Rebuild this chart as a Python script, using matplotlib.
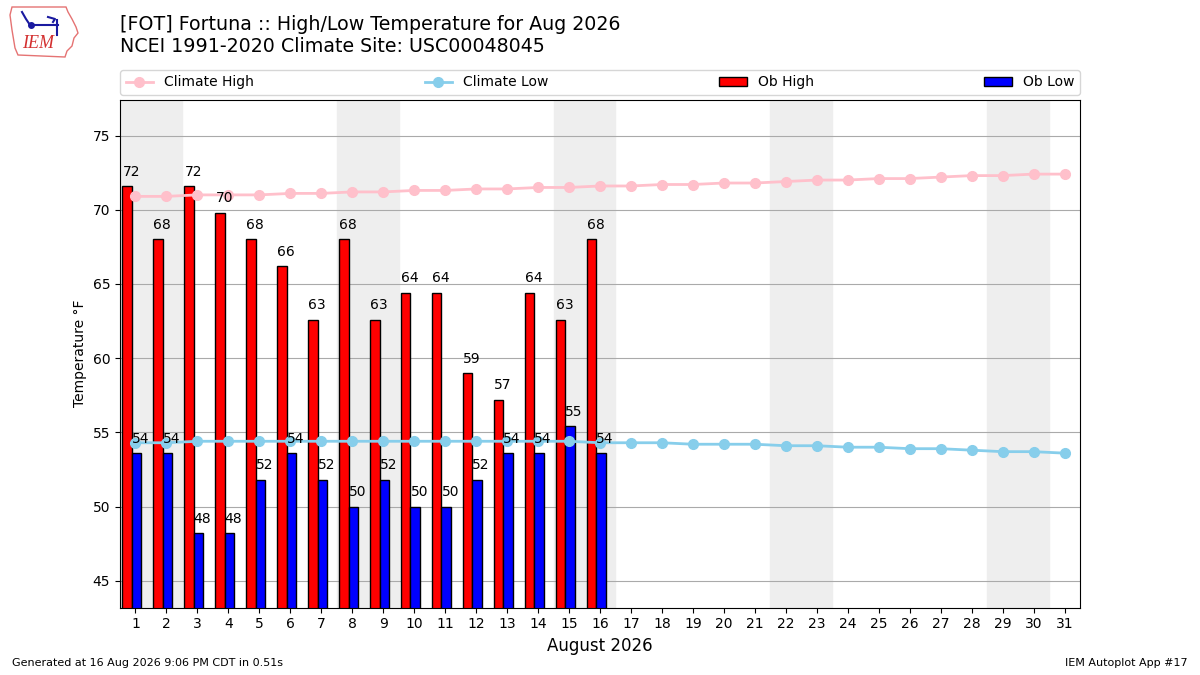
import numpy as np
import matplotlib
matplotlib.use("Agg")
import matplotlib.pyplot as plt
from matplotlib.lines import Line2D
from matplotlib.patches import Polygon

days = np.arange(1, 32)
clim_high = [70.9, 70.9, 71.0, 71.0, 71.0, 71.1, 71.1, 71.2, 71.2, 71.3, 71.3,
             71.4, 71.4, 71.5, 71.5, 71.6, 71.6, 71.7, 71.7, 71.8, 71.8, 71.9,
             72.0, 72.0, 72.1, 72.1, 72.2, 72.3, 72.3, 72.4, 72.4]
clim_low = [54.3, 54.3, 54.4, 54.4, 54.4, 54.4, 54.4, 54.4, 54.4, 54.4, 54.4,
            54.4, 54.4, 54.4, 54.4, 54.3, 54.3, 54.3, 54.2, 54.2, 54.2, 54.1,
            54.1, 54.0, 54.0, 53.9, 53.9, 53.8, 53.7, 53.7, 53.6]
ob_days = np.arange(1, 17)
ob_high = [71.6, 68.0, 71.6, 69.8, 68.0, 66.2, 62.6, 68.0, 62.6, 64.4, 64.4,
           59.0, 57.2, 64.4, 62.6, 68.0]
ob_low = [53.6, 53.6, 48.2, 48.2, 51.8, 53.6, 51.8, 50.0, 51.8, 50.0, 50.0,
          51.8, 53.6, 53.6, 55.4, 53.6]
weekends = [1, 8, 15, 22, 29]

W, H = 1200, 675


def px(x, y):
    # figure pixel (from top-left) to figure fraction
    return x / W, 1 - y / H


fig = plt.figure(figsize=(12, 6.75), dpi=100)
ax = fig.add_axes([0.1, 0.1, 0.8, 0.752])

for d in weekends:
    ax.axvspan(d - 0.5, d + 1.5, color="#EEEEEE", zorder=0)

ax.grid(axis="y", color="#aaaaaa", zorder=1)
ax.set_axisbelow(True)

l1, = ax.plot(days, clim_high, color="pink", marker="o", lw=2, ms=7,
              label="Climate High", zorder=3)
l2, = ax.plot(days, clim_low, color="skyblue", marker="o", lw=2, ms=7,
              label="Climate Low", zorder=3)

b1 = ax.bar(ob_days - 0.42, ob_high, width=0.3, align="edge", color="red",
            edgecolor="k", label="Ob High", zorder=2)
b2 = ax.bar(ob_days - 0.12, ob_low, width=0.3, align="edge", color="blue",
            edgecolor="k", label="Ob Low", zorder=2)

for d, v in zip(ob_days, ob_high):
    ax.text(d - 0.42, v + 0.5, f"{v:.0f}", ha="left", va="bottom",
            fontsize=10, zorder=4)
for d, v in zip(ob_days, ob_low):
    ax.text(d - 0.12, v + 0.5, f"{v:.0f}", ha="left", va="bottom",
            fontsize=10, zorder=4)

ax.set_xlim(0.5, 31.5)
ax.set_ylim(min(ob_low) - 5, max(clim_high) + 5)
ax.set_xticks(days)
ax.set_xlabel("August 2026", fontsize=12)
ax.set_ylabel("Temperature °F")

fig.legend(handles=[l1, l2, b1, b2], loc="lower left", ncol=4, mode="expand",
           bbox_to_anchor=(0.1, 1 - 95 / 675, 0.8, 0.04),
           bbox_transform=fig.transFigure, borderaxespad=0)

fig.text(0.1, 1 - 15 / H, "[FOT] Fortuna :: High/Low Temperature for Aug 2026\n"
         "NCEI 1991-2020 Climate Site: USC00048045", fontsize=13.7, va="top",
         ha="left")
fig.text(0.01, 0.01, "Generated at 16 Aug 2026 9:06 PM CDT in 0.51s",
         fontsize=8, ha="left", va="bottom")
fig.text(0.99, 0.01, "IEM Autoplot App #17", fontsize=8, ha="right",
         va="bottom")

# rough IEM logo
outline = [(12, 7), (66, 7), (68, 12), (72, 19), (76, 27), (78, 33),
           (74, 38), (72, 46), (67, 51), (65, 57), (18, 55), (15, 48),
           (12, 30), (10, 15)]
fig.patches.append(Polygon([px(*p) for p in outline], closed=True,
                           fill=False, edgecolor="#e57373", lw=1,
                           transform=fig.transFigure))
for xs, ys in [([22, 26, 30], [12, 19, 25]), ([30, 58], [25, 25]),
               ([57, 57], [20, 35]), ([48, 55, 53], [17, 19, 22])]:
    pts = [px(x, y) for x, y in zip(xs, ys)]
    fig.lines.append(Line2D([p[0] for p in pts], [p[1] for p in pts],
                            color="#1a1aa0", lw=1.5,
                            transform=fig.transFigure))
fig.lines.append(Line2D([px(31, 25)[0]], [px(31, 25)[1]], marker="o", ms=4,
                        color="#1a1aa0", transform=fig.transFigure))
fig.text(*px(38, 44), "IEM", color="#d32f2f", fontsize=13, style="italic",
         family="Liberation Serif", ha="center", va="center")

fig.savefig("out.png", dpi=100)
